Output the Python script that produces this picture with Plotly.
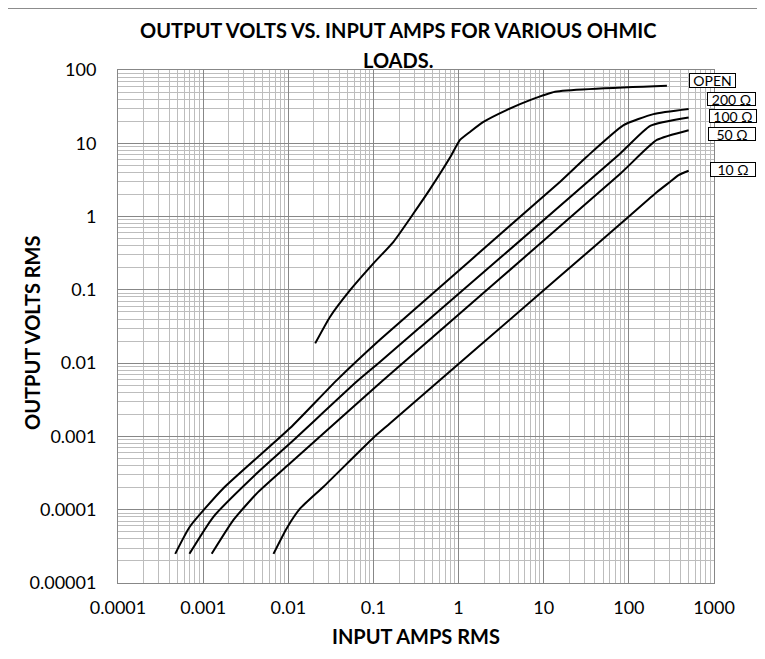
import plotly.graph_objects as go

# ---- data ----
open_x = [0.0207, 0.031, 0.0532, 0.1, 0.172, 0.295, 0.46, 0.8, 1.04, 1.37, 1.96, 3.66, 6.9, 13.6, 280]
open_y = [0.0186, 0.043, 0.099, 0.23, 0.453, 1.1, 2.35, 6.5, 11.1, 14.4, 19.6, 28.4, 38.8, 50.5, 61]

r200_x = [4.7e-4, 7.0e-4, 1.73e-3, 0.0105, 0.0372, 0.12, 15.6, 32, 86.7, 194.5, 504]
r200_y = [2.5e-5, 5.9e-5, 1.96e-4, 1.3e-3, 5.87e-3, 0.021, 2.99, 6.55, 17.7, 25.0, 29.3]

r100_x = [6.9e-4, 1.32e-3, 4.27e-3, 0.0105, 0.0637, 0.12, 79.3, 178, 504]
r100_y = [2.5e-5, 8.0e-5, 3.14e-4, 8.05e-4, 5.6e-3, 0.01045, 7.28, 17.3, 22.5]

r50_x = [1.26e-3, 2.27e-3, 4.27e-3, 0.0105, 0.125, 79.3, 213, 504]
r50_y = [2.5e-5, 7.25e-5, 1.67e-4, 4.3e-4, 5.6e-3, 3.85, 11.1, 15.1]

r10_x = [6.7e-3, 9.6e-3, 0.0138, 0.0259, 0.1, 0.157, 15.6, 100, 214, 306, 384, 504]
r10_y = [2.5e-5, 5.6e-5, 1.04e-4, 2.06e-4, 9.6e-4, 1.51e-3, 0.154, 1.0, 2.16, 2.99, 3.68, 4.22]

series_names = ["OPEN", "200 Ω", "100 Ω", "50 Ω", "10 Ω"]
series_x = [open_x, r200_x, r100_x, r50_x, r10_x]
series_y = [open_y, r200_y, r100_y, r50_y, r10_y]

x_tickvals = [0.0001, 0.001, 0.01, 0.1, 1, 10, 100, 1000]
x_ticktext = ["0.0001", "0.001", "0.01", "0.1", "1", "10", "100", "1000"]
y_tickvals = [0.00001, 0.0001, 0.001, 0.01, 0.1, 1, 10, 100]
y_ticktext = ["0.00001", "0.0001", "0.001", "0.01", "0.1", "1", "10", "100"]

FONT = "Lato"
MAJOR = "#878787"
MINOR = "#bdbdbd"

# the page body has an 8px margin, so the figure starts at (8, 8) in the window
OFF = 8
W, H = 757, 651
L, R, T, B = 118 - OFF, 51, 70 - OFF, 76
pw, ph = W - L - R, H - T - B
def pxx(px):   # window pixel -> paper x
    return (px - OFF - L) / pw
def pxy(py):   # window pixel -> paper y
    return (H - B - (py - OFF)) / ph

# label boxes: centre (window px) and inner size (px)
label_box = {"OPEN": (712.7, 80.5, 45, 13), "200 Ω": (731.3, 99.0, 47, 12),
             "100 Ω": (732.5, 116.3, 46, 12), "50 Ω": (732.0, 133.8, 46, 12),
             "10 Ω": (733.0, 169.2, 44, 13)}

fig = go.Figure()
for name, xs, ys in zip(series_names, series_x, series_y):
    fig.add_trace(go.Scatter(x=xs, y=ys, mode="lines", name=name,
                             line=dict(color="black", width=2, shape="spline", smoothing=0.5),
                             showlegend=False))

for name in series_names:
    cx, cy, bw, bh = label_box[name]
    fig.add_annotation(x=pxx(cx), y=pxy(cy), xref="paper", yref="paper", text=name, showarrow=False,
                       xanchor="center", yanchor="middle", width=bw, height=bh,
                       font=dict(family=FONT, size=14, color="black"),
                       bordercolor="black", borderwidth=1, bgcolor="white", borderpad=0)

axis_common = dict(type="log", showline=True, linecolor=MAJOR, linewidth=1, mirror=True,
                   showgrid=True, gridcolor=MAJOR, gridwidth=1, ticks="", zeroline=False,
                   tickfont=dict(family=FONT, size=18, color="black"),
                   minor=dict(dtick="D1", showgrid=True, gridcolor=MINOR, gridwidth=1, ticks=""))

fig.update_xaxes(range=[-4, 3], tickvals=x_tickvals, ticktext=x_ticktext, ticklabelstandoff=8,
                 **axis_common)
fig.update_yaxes(range=[-5, 2], tickvals=y_tickvals, ticktext=y_ticktext, ticklabelstandoff=17,
                 **axis_common)

title_font = dict(family=FONT, size=20, color="black")
fig.add_annotation(xref="paper", yref="paper", x=pxx(398), y=pxy(30), yanchor="middle",
                   text="<b>OUTPUT VOLTS VS. INPUT AMPS FOR VARIOUS OHMIC</b>", showarrow=False,
                   font=title_font)
fig.add_annotation(xref="paper", yref="paper", x=pxx(398), y=pxy(60), yanchor="middle",
                   text="<b>LOADS.</b>", showarrow=False, font=title_font)
fig.add_annotation(xref="paper", yref="paper", x=pxx(416), y=pxy(636), yanchor="middle",
                   text="<b>INPUT AMPS RMS</b>", showarrow=False, font=title_font)
fig.add_annotation(xref="paper", yref="paper", x=pxx(32), y=pxy(333), yanchor="middle",
                   xanchor="center", textangle=-90,
                   text="<b>OUTPUT VOLTS RMS</b>", showarrow=False, font=title_font)

# outer chart frame (figure border; right/bottom lie outside the window)
fig.add_shape(type="rect", xref="paper", yref="paper",
              x0=pxx(7.5), x1=pxx(900), y0=pxy(900), y1=pxy(8.5),
              line=dict(color="#8c8c8c", width=1), fillcolor="rgba(0,0,0,0)", layer="below")

fig.update_layout(width=W, height=H, margin=dict(l=L, r=R, t=T, b=B),
                  plot_bgcolor="white", paper_bgcolor="white",
                  font=dict(family=FONT, color="black"))

fig.write_html("out.html")
